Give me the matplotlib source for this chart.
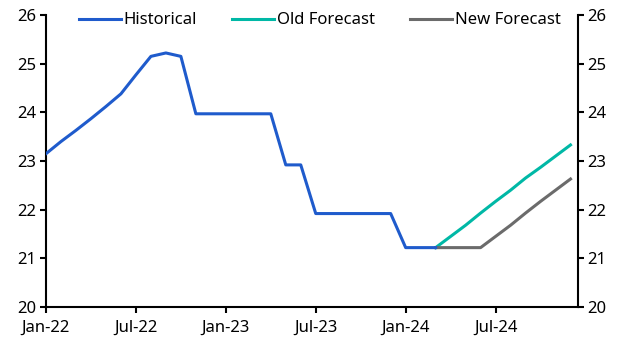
import matplotlib.pyplot as plt

plt.rcParams['font.family'] = ['Noto Sans', 'DejaVu Sans']

tick_labels = ['Jan-22', 'Jul-22', 'Jan-23', 'Jul-23', 'Jan-24', 'Jul-24']

# monthly index, 0 = Jan-22
hist_x = list(range(0, 27))
hist_y = [23.15, 23.40, 23.63, 23.87, 24.12, 24.38, 24.77, 25.15, 25.22, 25.15,
          23.97, 23.97, 23.97, 23.97, 23.97, 23.97, 22.92, 22.92,
          21.92, 21.92, 21.92, 21.92, 21.92, 21.92, 21.22, 21.22, 21.22]
old_x = list(range(26, 36))
old_y = [21.22, 21.45, 21.68, 21.93, 22.17, 22.40, 22.65, 22.87, 23.10, 23.33]
new_x = list(range(26, 36))
new_y = [21.22, 21.22, 21.22, 21.22, 21.45, 21.68, 21.93, 22.17, 22.40, 22.63]

fig = plt.figure(figsize=(6.3, 3.55), dpi=100)
ax = fig.add_axes([46 / 630, 1 - 307 / 355, (578 - 46) / 630, (307 - 15) / 355])

ax.plot(hist_x, hist_y, color='#1f5bcc', lw=2.2, label='Historical', zorder=3)
ax.plot(old_x, old_y, color='#00b8a6', lw=2.2, label='Old Forecast')
ax.plot(new_x, new_y, color='#6b6b6b', lw=2.2, label='New Forecast')

ax.set_xlim(0, 35.5)
ax.set_ylim(20, 26)
ax.set_xticks([0, 6, 12, 18, 24, 30])
ax.set_xticklabels(tick_labels)
ax.set_yticks(range(20, 27))

ax.spines['top'].set_visible(False)
for s in ['left', 'right', 'bottom']:
    ax.spines[s].set_linewidth(1.5)
ax.tick_params(axis='both', direction='out', length=4, width=1.5, labelsize=12, colors='black')
ax.tick_params(axis='y', right=True, labelright=True, pad=3)
ax.tick_params(axis='x', pad=5)

ax.legend(loc='upper center', bbox_to_anchor=(0.515, 1.06), ncol=3, frameon=False,
          fontsize=12, handlelength=2.5, handletextpad=0.2, columnspacing=2.1)

fig.savefig('out.png', dpi=100)
